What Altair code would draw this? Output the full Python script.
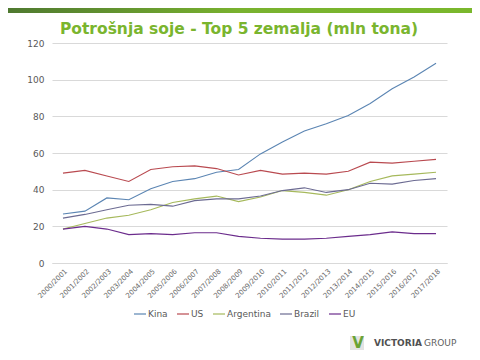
import altair as alt
import pandas as pd

seasons = ["2000/2001", "2001/2002", "2002/2003", "2003/2004", "2004/2005", "2005/2006",
           "2006/2007", "2007/2008", "2008/2009", "2009/2010", "2010/2011", "2011/2012",
           "2012/2013", "2013/2014", "2014/2015", "2015/2016", "2016/2017", "2017/2018"]
kina = [26.7, 28.3, 35.5, 34.5, 40.5, 44.5, 46.0, 49.5, 51.0, 59.5, 66.0, 72.0, 76.0, 80.5, 87.0, 95.0, 101.5, 109.0]
us = [49.0, 50.5, 47.5, 44.5, 51.0, 52.5, 53.0, 51.5, 48.0, 50.5, 48.5, 49.0, 48.5, 50.0, 55.0, 54.5, 55.5, 56.5]
argentina = [18.5, 21.5, 24.5, 26.0, 29.0, 33.0, 35.0, 36.5, 33.5, 36.0, 39.5, 38.5, 37.0, 40.0, 44.5, 47.5, 48.5, 49.5]
brazil = [24.5, 26.5, 29.0, 31.5, 32.0, 31.0, 34.0, 35.0, 35.0, 36.5, 39.5, 41.0, 38.5, 40.0, 43.5, 43.0, 45.0, 46.0]
eu = [18.5, 20.0, 18.5, 15.5, 16.0, 15.5, 16.5, 16.5, 14.5, 13.5, 13.0, 13.0, 13.5, 14.5, 15.5, 17.0, 16.0, 16.0]

series_names = ["Kina", "US", "Argentina", "Brazil", "EU"]
series_values = [kina, us, argentina, brazil, eu]
colors = ["#5b85b3", "#b94a50", "#a6b95c", "#6c6b92", "#6b2c8c"]

rows = []
for name, vals in zip(series_names, series_values):
    for s, v in zip(seasons, vals):
        rows.append({"season": s, "value": v, "country": name})
df = pd.DataFrame(rows)

W, H = 395, 220

lines = alt.Chart(df).mark_line(strokeWidth=1.1).encode(
    x=alt.X("season:N", sort=seasons, scale=alt.Scale(padding=0.5),
            axis=alt.Axis(title=None, labelAngle=-45, labelFontSize=7, labelColor="#6a6a6a",
                          labelFont="DejaVu Sans", ticks=False, domainColor="#d9d9d9",
                          labelPadding=4, grid=False)),
    y=alt.Y("value:Q", scale=alt.Scale(domain=[0, 120]),
            axis=alt.Axis(title=None, values=[0, 20, 40, 60, 80, 100, 120], domain=False,
                          ticks=False, gridColor="#d9d9d9", labelFontSize=9,
                          labelColor="#595959", labelFont="DejaVu Sans", labelPadding=8)),
    color=alt.Color("country:N", sort=series_names,
                    scale=alt.Scale(domain=series_names, range=colors),
                    legend=alt.Legend(title=None, orient="none", direction="horizontal",
                                      legendX=81, legendY=264, symbolType="stroke",
                                      symbolSize=144, symbolStrokeWidth=1.2, labelFontSize=9,
                                      labelColor="#595959", labelFont="DejaVu Sans",
                                      labelOffset=1, columnPadding=6)),
)

bar_df = pd.DataFrame({"a": [0]})
topbar = alt.Chart(bar_df).mark_rect(
    color=alt.Gradient(gradient="linear",
                       stops=[alt.GradientStop(color="#4c7530", offset=0),
                              alt.GradientStop(color="#79b22f", offset=0.5),
                              alt.GradientStop(color="#7ab82c", offset=1)],
                       x1=0, x2=1, y1=0, y2=0)
).encode(x=alt.value(-60), x2=alt.value(W + 40), y=alt.value(-40), y2=alt.value(-30))

title_df = pd.DataFrame({"t": ["Potrošnja soje - Top 5 zemalja (mln tona)"]})
title = alt.Chart(title_df).mark_text(
    font="DejaVu Sans", fontSize=15.5, fontWeight="bold", color="#7ab52e", align="center",
    baseline="alphabetic"
).encode(x=alt.value(187), y=alt.value(-9), text="t:N")

logo_box = alt.Chart(bar_df).mark_rect(color="#e3e3e3").encode(
    x=alt.value(298), x2=alt.value(312), y=alt.value(293), y2=alt.value(307))
logo_v = alt.Chart(pd.DataFrame({"t": ["V"]})).mark_text(
    font="DejaVu Sans", fontSize=15, fontWeight="bold", color="#6aa336", align="center",
    baseline="middle").encode(x=alt.value(306), y=alt.value(300), text="t:N")
logo_t1 = alt.Chart(pd.DataFrame({"t": ["VICTORIA"]})).mark_text(
    font="DejaVu Sans", fontSize=9, fontWeight="bold", color="#505050", align="left",
    baseline="middle").encode(x=alt.value(322), y=alt.value(300), text="t:N")
logo_t2 = alt.Chart(pd.DataFrame({"t": ["GROUP"]})).mark_text(
    font="DejaVu Sans", fontSize=9, color="#606060", align="left",
    baseline="middle").encode(x=alt.value(372), y=alt.value(300), text="t:N")

chart = alt.layer(topbar, title, lines, logo_box, logo_v, logo_t1, logo_t2).properties(
    width=W, height=H,
    autosize=alt.AutoSizeParams(type="none"),
    padding={"left": 44, "top": 35, "right": 25, "bottom": 89},
    background="white",
).configure_view(stroke=None)

chart.save("out.html", embed_options={"renderer": "svg", "actions": False})
